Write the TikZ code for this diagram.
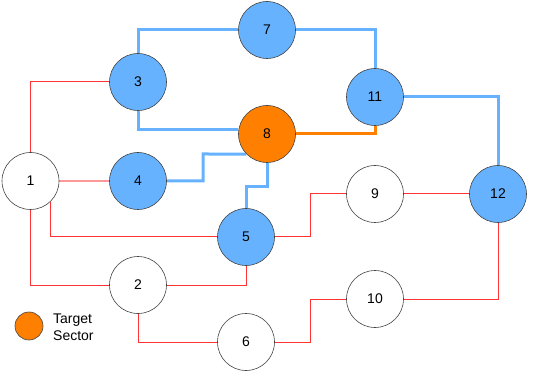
\documentclass[tikz,border=0pt]{standalone}
\usepackage{fontspec}
\setmainfont{Liberation Sans}
\usetikzlibrary{backgrounds}
\definecolor{secblue}{HTML}{66B2FF}
\definecolor{secorange}{HTML}{FF8000}
\definecolor{linered}{HTML}{FF3333}
\definecolor{linepink}{HTML}{FF9999}
\definecolor{rimgray}{HTML}{444444}
\begin{document}
\begin{tikzpicture}[x=1pt,y=-1pt,
  sector/.style={circle, draw=rimgray, line width=0.6pt, minimum size=57pt, inner sep=0pt,
    font=\fontsize{14}{16}\selectfont},
  plainsec/.style={sector, fill=white},
  bluesec/.style={sector, fill=secblue},
  targetsec/.style={sector, fill=secorange},
  redline/.style={draw=linered, line width=1pt},
  pinkline/.style={draw=linepink, line width=1.6pt},
  blueline/.style={draw=secblue, line width=3pt},
  orangeline/.style={draw=secorange, line width=3pt}
]
\useasboundingbox (0,0) rectangle (536,377);

\coordinate (c48) at (203,154);
\coordinate (c85) at (267,187);
\coordinate (c59) at (310,194);
\coordinate (c610) at (310,299);

\node[plainsec] (n1) at (30.5,181) {1};
\node[plainsec] (n2) at (138,285) {2};
\node[bluesec] (n3) at (138,82) {3};
\node[bluesec] (n4) at (138,181) {4};
\node[bluesec] (n5) at (246,237) {5};
\node[plainsec] (n6) at (246,342) {6};
\node[bluesec] (n7) at (267,30) {7};
\node[targetsec] (n8) at (267,134) {8};
\node[plainsec] (n9) at (375,194) {9};
\node[plainsec] (n10) at (375,299) {10};
\node[bluesec] (n11) at (375,97) {11};
\node[bluesec] (n12) at (498,194) {12};

\begin{scope}[on background layer]
\draw[redline] (n1.north) |- (n3.west);
\draw[pinkline] (n1.east) -- (n4.west);
\draw[redline] (n1.313) |- (n5.west);
\draw[redline] (n1.south) |- (n2.west);
\draw[redline] (n2.east) -| (n5.south);
\draw[redline] (n2.south) |- (n6.west);
\draw[redline] (n5.east) -| (c59) -- (n9.west);
\draw[redline] (n9.east) -- (n12.west);
\draw[redline] (n12.south) |- (n10.east);
\draw[redline] (n6.east) -| (c610) -- (n10.west);

\draw[blueline] (n3.north) |- (n7.west);
\draw[blueline] (n3.south) |- (n8.172);
\draw[blueline] (n4.east) -| (c48) -- (n8.224);
\draw[blueline] (n8.south) -- (c85) -| (n5.north);
\draw[blueline] (n7.east) -| (n11.north);
\draw[blueline] (n11.east) -| (n12.north);
\draw[orangeline] (n8.east) -| (n11.south);
\end{scope}

% legend
\node[circle, draw=rimgray, line width=0.6pt, fill=secorange, minimum size=28pt, inner sep=0pt] (legdot) at (29,326) {};
\node[anchor=north west, inner sep=0pt, align=left, font=\fontsize{14}{16.5}\selectfont] (legtext) at (53,314) {Target\\Sector};
\end{tikzpicture}
\end{document}
